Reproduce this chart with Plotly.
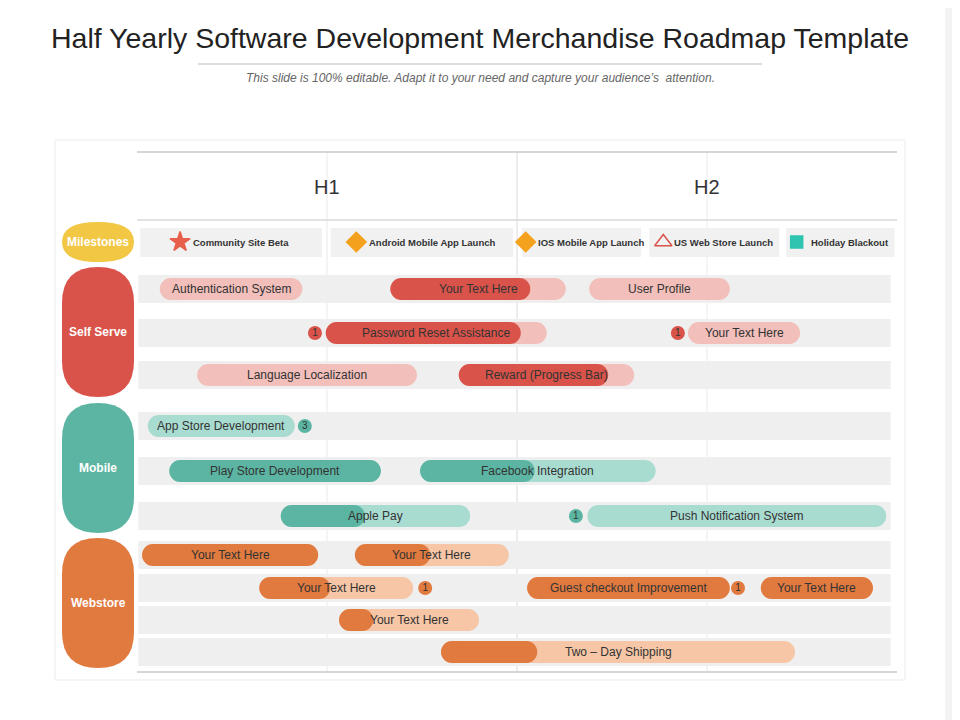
import plotly.graph_objects as go

PX0, PXM = 137.0, 63.333  # month 0 pixel, pixels per month
OFF = 8  # browser page margin
FONT = "Liberation Sans, Arial"

title = "Half Yearly Software Development Merchandise Roadmap Template"
subtitle = "This slide is 100% editable. Adapt it to your need and capture your audience\u2019s  attention."
halves = ["H1", "H2"]
groups = ["Milestones", "Self Serve", "Mobile", "Webstore"]

milestone_labels = ["Community Site Beta", "Android Mobile App Launch", "IOS Mobile App Launch",
                    "US Web Store Launch", "Holiday Blackout"]
milestone_box_start = [0.05, 3.06, 6.08, 8.09, 10.25]
milestone_box_end = [2.92, 5.94, 7.96, 10.14, 11.96]

task_label = ["Authentication System", "Your Text Here", "User Profile",
              "Password Reset Assistance", "Your Text Here",
              "Language Localization", "Reward (Progress Bar)",
              "App Store Development", "Play Store Development", "Facebook Integration",
              "Apple Pay", "Push Notification System",
              "Your Text Here", "Your Text Here",
              "Your Text Here", "Guest checkout Improvement", "Your Text Here",
              "Your Text Here", "Two \u2013 Day Shipping"]
task_group = ["Self Serve"] * 7 + ["Mobile"] * 5 + ["Webstore"] * 7
task_row = [0, 0, 0, 1, 1, 2, 2, 3, 4, 4, 5, 5, 6, 6, 7, 7, 7, 8, 9]
task_start = [0.36, 4.00, 7.14, 2.98, 8.70, 0.95, 5.08, 0.17, 0.51, 4.47, 2.27, 7.11,
              0.08, 3.44, 1.93, 6.16, 9.85, 3.19, 4.80]
task_end = [2.61, 6.77, 9.36, 6.47, 10.47, 4.42, 7.85, 2.49, 3.85, 8.19, 5.26, 11.83,
            2.86, 5.87, 4.36, 9.36, 11.62, 5.40, 10.39]
task_done = [0.0, 6.21, 0.0, 6.06, 0.0, 0.0, 7.44, 0.0, 3.85, 6.28, 3.60, 0.0,
             2.86, 4.63, 3.05, 9.36, 11.62, 3.73, 6.32]

badge_row = [1, 1, 3, 5, 7, 7]
badge_pos = [2.81, 8.54, 2.65, 6.93, 4.55, 9.49]
badge_text = ["1", "1", "3", "1", "1", "1"]
badge_group = ["Self Serve", "Self Serve", "Mobile", "Mobile", "Webstore", "Webstore"]

row_y = [289, 333, 375, 426, 471, 516, 555, 588, 620, 652]

dark = {"Self Serve": "#D9534A", "Mobile": "#5BB5A2", "Webstore": "#E07A3F", "Milestones": "#F2C744"}
light = {"Self Serve": "#F2BFBA", "Mobile": "#A9DCD1", "Webstore": "#F6C6A6"}

def m(p):
    return (p - PX0) / PXM

fig = go.Figure()
shapes, ann = [], []
xr = [m(OFF), m(960 + OFF)]

shapes.append(dict(type="rect", x0=m(55), x1=m(905), y0=140, y1=680,
                   line=dict(color="#EBEBEB", width=1), fillcolor="white", layer="below"))
shapes.append(dict(type="rect", x0=m(945), x1=m(970), y0=0, y1=730,
                   line=dict(width=0), fillcolor="#F3F3F3", layer="below"))
for yy, c in [(152, "#C8C8C8"), (220, "#D8D8D8"), (672, "#C8C8C8")]:
    shapes.append(dict(type="line", x0=0, x1=12, y0=yy, y1=yy, line=dict(color=c, width=1.5)))
for mm, c in [(3, "#EAEAEA"), (6, "#DADADA"), (9, "#EAEAEA")]:
    shapes.append(dict(type="line", x0=mm, x1=mm, y0=152, y1=672, line=dict(color=c, width=1), layer="below"))
for i, h in enumerate(halves):
    ann.append(dict(x=3 + 6 * i, y=187, text=h, showarrow=False, font=dict(size=20, color="#333", family=FONT)))
shapes.append(dict(type="line", x0=m(198), x1=m(762), y0=64, y1=64, line=dict(color="#BBBBBB", width=1)))
ann.append(dict(x=m(480), y=38, text=title, showarrow=False, font=dict(size=28.5, color="#222", family=FONT)))
ann.append(dict(x=m(480), y=78, text="<i>" + subtitle + "</i>", showarrow=False,
                font=dict(size=12, color="#666", family=FONT)))

grp_y = {"Milestones": (222, 262), "Self Serve": (267, 397), "Mobile": (403, 533), "Webstore": (538, 668)}
for g in groups:
    y0, y1 = grp_y[g]
    rr = min(36, (y1 - y0) / 2)
    xm0, xm1 = m(62), m(134)
    path = (f"M {xm0},{y0+rr} L {xm0},{y1-rr} Q {xm0},{y1} {(xm0+xm1)/2},{y1} Q {xm1},{y1} {xm1},{y1-rr} "
            f"L {xm1},{y0+rr} Q {xm1},{y0} {(xm0+xm1)/2},{y0} Q {xm0},{y0} {xm0},{y0+rr} Z")
    shapes.append(dict(type="path", path=path, fillcolor=dark[g], line=dict(width=0)))
    ann.append(dict(x=(xm0 + xm1) / 2, y=(y0 + y1) / 2, text="<b>" + g + "</b>", showarrow=False,
                    font=dict(size=12, color="white", family=FONT)))

icons = [("star", "#E8604C"), ("diamond", "#F4A11D"), ("diamond", "#F4A11D"), ("triangle-up-open", "#D9534A"), ("square", "#2EC4B0")]
for i, lab in enumerate(milestone_labels):
    shapes.append(dict(type="rect", x0=milestone_box_start[i], x1=milestone_box_end[i], y0=228, y1=257,
                       fillcolor="#F1F1F1", line=dict(width=0), layer="below"))
    w = len(lab) * 4.9 / PXM
    cx = (milestone_box_start[i] + milestone_box_end[i]) / 2 + 0.15
    ann.append(dict(x=cx, y=242, text="<b>" + lab + "</b>", showarrow=False,
                    font=dict(size=9.5, color="#333", family=FONT)))
    sym, col = icons[i]
    fig.add_trace(go.Scatter(x=[cx - w / 2 - 0.22], y=[242], mode="markers", hoverinfo="skip",
                             marker=dict(symbol=sym, size=15 if sym != "square" else 12, color=col,
                                         line=dict(color=col, width=1.5))))

for yy in row_y:
    shapes.append(dict(type="rect", x0=0.02, x1=11.9, y0=yy - 14, y1=yy + 14,
                       fillcolor="#EFEFEF", line=dict(width=0), layer="below"))

H = 22
hm = (H / 2) / PXM
for i, lab in enumerate(task_label):
    g = task_group[i]
    yy = row_y[task_row[i]]
    s, e, d = task_start[i], task_end[i], task_done[i]
    fig.add_trace(go.Scatter(x=[s + hm, e - hm], y=[yy, yy], mode="lines+markers", hoverinfo="skip",
                             line=dict(color=light[g], width=H), marker=dict(size=H, color=light[g])))
    if d > 0:
        fig.add_trace(go.Scatter(x=[s + hm, d - hm], y=[yy, yy], mode="lines+markers", hoverinfo="skip",
                                 line=dict(color=dark[g], width=H), marker=dict(size=H, color=dark[g])))
    tc = (s + e) / 2 if d < e else (s + d) / 2
    ann.append(dict(x=tc, y=yy, text=lab, showarrow=False,
                    font=dict(size=12, color="#333", family=FONT)))

for i, b in enumerate(badge_text):
    g = badge_group[i]
    fig.add_trace(go.Scatter(x=[badge_pos[i]], y=[row_y[badge_row[i]]], mode="markers+text", text=[b],
                             textfont=dict(size=10, color="#333", family=FONT), hoverinfo="skip",
                             marker=dict(size=14, color=dark[g])))

fig.update_layout(width=960, height=720, margin=dict(l=0, r=0, t=0, b=0), showlegend=False,
                  paper_bgcolor="white", plot_bgcolor="white", shapes=shapes, annotations=ann,
                  xaxis=dict(range=xr, visible=False, fixedrange=True),
                  yaxis=dict(range=[720 + OFF, OFF], visible=False, fixedrange=True))
fig.write_html("out.html")
